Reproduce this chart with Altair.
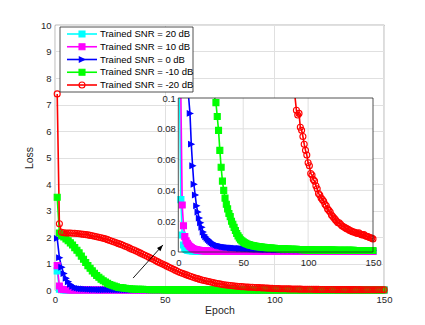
import altair as alt
import pandas as pd

# ---------------- data ----------------
epochs = list(range(1, 151))
series_names = ["Trained SNR = 20 dB", "Trained SNR = 10 dB", "Trained SNR = 0 dB",
                "Trained SNR = -10 dB", "Trained SNR = -20 dB"]
series_colors = ["#00FFFF", "#FF00FF", "#0000FF", "#00FF00", "#FF0000"]
series_shapes = ["square", "square", "M0.9,0L-0.9,-0.85L-0.9,0.85Z", "square", "circle"]
series_sizes = [36, 36, 80, 36, 55]

loss_20db = [
    0.72, 0.034, 0.011, 0.0045, 0.0025, 0.0016, 0.0012, 0.0010, 0.0009, 0.0008,
    0.0007, 0.0007, 0.0006, 0.0006, 0.0006, 0.0005, 0.0005, 0.0005, 0.0005, 0.0005,
    0.0004, 0.0004, 0.0004, 0.0004, 0.0004, 0.0004, 0.0004, 0.0004, 0.0004, 0.0004,
    0.0004, 0.0004, 0.0004, 0.0004, 0.0004, 0.0004, 0.0004, 0.0004, 0.0004, 0.0004,
    0.0004, 0.0004, 0.0004, 0.0004, 0.0004, 0.0004, 0.0004, 0.0004, 0.0004, 0.0004,
    0.0004, 0.0004, 0.0004, 0.0004, 0.0004, 0.0004, 0.0004, 0.0004, 0.0004, 0.0004,
    0.0003, 0.0003, 0.0003, 0.0003, 0.0003, 0.0003, 0.0003, 0.0003, 0.0003, 0.0003,
    0.0003, 0.0003, 0.0003, 0.0003, 0.0003, 0.0003, 0.0003, 0.0003, 0.0003, 0.0003,
    0.0003, 0.0003, 0.0003, 0.0003, 0.0003, 0.0003, 0.0003, 0.0003, 0.0003, 0.0003,
    0.0003, 0.0003, 0.0003, 0.0003, 0.0003, 0.0003, 0.0003, 0.0003, 0.0003, 0.0003,
    0.0003, 0.0003, 0.0003, 0.0003, 0.0003, 0.0003, 0.0003, 0.0003, 0.0003, 0.0003,
    0.0003, 0.0003, 0.0003, 0.0003, 0.0003, 0.0003, 0.0003, 0.0003, 0.0003, 0.0003,
    0.0003, 0.0003, 0.0003, 0.0003, 0.0003, 0.0003, 0.0003, 0.0003, 0.0003, 0.0003,
    0.0003, 0.0003, 0.0003, 0.0003, 0.0003, 0.0003, 0.0003, 0.0003, 0.0003, 0.0003,
    0.0003, 0.0003, 0.0003, 0.0003, 0.0003, 0.0003, 0.0003, 0.0003, 0.0003, 0.0003,
]
loss_10db = [
    0.92, 0.15, 0.0305, 0.017, 0.010, 0.0072, 0.0056, 0.0045, 0.0036, 0.0029,
    0.0023, 0.0019, 0.0016, 0.0014, 0.0012, 0.0011, 0.0010, 0.0009, 0.0008, 0.0007,
    0.0007, 0.0006, 0.0006, 0.0006, 0.0005, 0.0005, 0.0005, 0.0005, 0.0005, 0.0005,
    0.0005, 0.0005, 0.0005, 0.0005, 0.0005, 0.0005, 0.0005, 0.0005, 0.0005, 0.0005,
    0.0004, 0.0004, 0.0004, 0.0004, 0.0004, 0.0004, 0.0004, 0.0004, 0.0004, 0.0004,
    0.0004, 0.0004, 0.0004, 0.0004, 0.0004, 0.0004, 0.0004, 0.0004, 0.0004, 0.0004,
    0.0004, 0.0004, 0.0004, 0.0004, 0.0004, 0.0004, 0.0004, 0.0004, 0.0004, 0.0004,
    0.0004, 0.0004, 0.0004, 0.0004, 0.0004, 0.0004, 0.0004, 0.0004, 0.0004, 0.0004,
    0.0004, 0.0004, 0.0004, 0.0004, 0.0004, 0.0004, 0.0004, 0.0004, 0.0004, 0.0004,
    0.0004, 0.0004, 0.0004, 0.0004, 0.0004, 0.0004, 0.0004, 0.0004, 0.0004, 0.0004,
    0.0004, 0.0004, 0.0004, 0.0004, 0.0004, 0.0004, 0.0004, 0.0004, 0.0004, 0.0004,
    0.0004, 0.0004, 0.0004, 0.0004, 0.0004, 0.0004, 0.0004, 0.0004, 0.0004, 0.0004,
    0.0004, 0.0004, 0.0004, 0.0004, 0.0004, 0.0004, 0.0004, 0.0004, 0.0004, 0.0004,
    0.0004, 0.0004, 0.0004, 0.0004, 0.0004, 0.0004, 0.0004, 0.0004, 0.0004, 0.0004,
    0.0004, 0.0004, 0.0004, 0.0004, 0.0004, 0.0004, 0.0004, 0.0004, 0.0004, 0.0004,
]
loss_0db = [
    1.95, 1.22, 0.86, 0.62, 0.44, 0.31, 0.21, 0.14, 0.090, 0.070,
    0.056, 0.044, 0.037, 0.030, 0.026, 0.022, 0.019, 0.016, 0.013, 0.011,
    0.0098, 0.0088, 0.0080, 0.0072, 0.0065, 0.0058, 0.0053, 0.0049, 0.0045, 0.0042,
    0.0040, 0.0038, 0.0036, 0.0034, 0.0032, 0.0031, 0.0030, 0.0029, 0.0028, 0.0027,
    0.0026, 0.0026, 0.0025, 0.0025, 0.0024, 0.0024, 0.0023, 0.0023, 0.0022, 0.0022,
    0.0021, 0.0021, 0.0020, 0.0020, 0.0020, 0.0019, 0.0019, 0.0019, 0.0018, 0.0018,
    0.0018, 0.0017, 0.0017, 0.0017, 0.0016, 0.0016, 0.0016, 0.0016, 0.0015, 0.0015,
    0.0015, 0.0015, 0.0015, 0.0014, 0.0014, 0.0014, 0.0014, 0.0014, 0.0014, 0.0014,
    0.0013, 0.0013, 0.0013, 0.0013, 0.0013, 0.0013, 0.0013, 0.0013, 0.0013, 0.0013,
    0.0012, 0.0012, 0.0012, 0.0012, 0.0012, 0.0012, 0.0012, 0.0012, 0.0012, 0.0012,
    0.0012, 0.0012, 0.0011, 0.0011, 0.0011, 0.0011, 0.0011, 0.0011, 0.0011, 0.0011,
    0.0011, 0.0011, 0.0011, 0.0011, 0.0011, 0.0011, 0.0011, 0.0011, 0.0011, 0.0011,
    0.0010, 0.0010, 0.0010, 0.0010, 0.0010, 0.0010, 0.0010, 0.0010, 0.0010, 0.0010,
    0.0010, 0.0010, 0.0010, 0.0010, 0.0010, 0.0010, 0.0010, 0.0010, 0.0010, 0.0010,
    0.0010, 0.0010, 0.0010, 0.0010, 0.0010, 0.0010, 0.0010, 0.0010, 0.0010, 0.0010,
]
loss_m10db = [
    3.5, 2.15, 2.05, 2.0, 1.93, 1.86, 1.78, 1.70, 1.60, 1.50,
    1.40, 1.28, 1.16, 1.04, 0.92, 0.82, 0.72, 0.63, 0.55, 0.48,
    0.41, 0.35, 0.30, 0.25, 0.21, 0.18, 0.15, 0.12, 0.097, 0.088,
    0.079, 0.066, 0.055, 0.046, 0.040, 0.035, 0.031, 0.028, 0.025, 0.023,
    0.020, 0.018, 0.016, 0.014, 0.012, 0.0105, 0.0092, 0.0080, 0.0072, 0.0066,
    0.0060, 0.0056, 0.0052, 0.0049, 0.0046, 0.0044, 0.0042, 0.0040, 0.0038, 0.0037,
    0.0035, 0.0034, 0.0033, 0.0032, 0.0031, 0.0030, 0.0029, 0.0028, 0.0027, 0.0026,
    0.0025, 0.0025, 0.0024, 0.0024, 0.0023, 0.0023, 0.0022, 0.0022, 0.0021, 0.0021,
    0.0020, 0.0020, 0.0019, 0.0019, 0.0019, 0.0018, 0.0018, 0.0018, 0.0017, 0.0017,
    0.0017, 0.0016, 0.0016, 0.0016, 0.0015, 0.0015, 0.0015, 0.0015, 0.0014, 0.0014,
    0.0014, 0.0014, 0.0014, 0.0013, 0.0013, 0.0013, 0.0013, 0.0013, 0.0013, 0.0013,
    0.0012, 0.0012, 0.0012, 0.0012, 0.0012, 0.0012, 0.0012, 0.0012, 0.0012, 0.0012,
    0.0011, 0.0011, 0.0011, 0.0011, 0.0011, 0.0011, 0.0011, 0.0011, 0.0011, 0.0011,
    0.0011, 0.0011, 0.0011, 0.0011, 0.0011, 0.0010, 0.0010, 0.0010, 0.0010, 0.0010,
    0.0010, 0.0010, 0.0010, 0.0010, 0.0010, 0.0010, 0.0010, 0.0010, 0.0010, 0.0010,
]
loss_m20db = [
    7.4, 2.5, 2.18, 2.16, 2.15, 2.15, 2.15, 2.14, 2.14, 2.13,
    2.12, 2.11, 2.10, 2.09, 2.08, 2.06, 2.05, 2.03, 2.01, 1.99,
    1.97, 1.95, 1.93, 1.90, 1.87, 1.84, 1.81, 1.78, 1.75, 1.72,
    1.69, 1.65, 1.62, 1.58, 1.54, 1.51, 1.47, 1.43, 1.39, 1.35,
    1.31, 1.27, 1.23, 1.19, 1.15, 1.10, 1.06, 1.02, 0.98, 0.94,
    0.90, 0.86, 0.82, 0.78, 0.74, 0.70, 0.66, 0.63, 0.60, 0.57,
    0.54, 0.51, 0.48, 0.45, 0.43, 0.40, 0.38, 0.36, 0.34, 0.32,
    0.30, 0.28, 0.26, 0.245, 0.23, 0.215, 0.20, 0.19, 0.18, 0.17,
    0.16, 0.15, 0.14, 0.133, 0.126, 0.12, 0.114, 0.109, 0.105, 0.101,
    0.092, 0.089, 0.090, 0.081, 0.079, 0.075, 0.070, 0.066, 0.063, 0.058,
    0.056, 0.051, 0.050, 0.047, 0.046, 0.043, 0.041, 0.038, 0.037, 0.035,
    0.034, 0.033, 0.031, 0.030, 0.028, 0.027, 0.026, 0.024, 0.023, 0.022,
    0.021, 0.020, 0.019, 0.019, 0.018, 0.017, 0.0165, 0.016, 0.0155, 0.015,
    0.0148, 0.014, 0.0138, 0.0132, 0.013, 0.0128, 0.0123, 0.012, 0.0125, 0.0118,
    0.0112, 0.011, 0.0113, 0.0105, 0.0102, 0.010, 0.0096, 0.0093, 0.0090, 0.0085,
]
all_losses = [loss_20db, loss_10db, loss_0db, loss_m10db, loss_m20db]

main_x_lim = [0, 150]
main_y_lim = [0, 10]
main_x_ticks = [0, 50, 100, 150]
main_y_ticks = [0, 1, 2, 3, 4, 5, 6, 7, 8, 9, 10]
inset_x_lim = [0, 150]
inset_y_lim = [0, 0.1]
inset_x_ticks = [0, 50, 100, 150]
inset_y_ticks = [0, 0.02, 0.04, 0.06, 0.08, 0.1]
arrow_x = [35.6, 49.2]
arrow_y = [0.45, 1.70]

# ---------------- tables ----------------
rows = []
for name, vals in zip(series_names, all_losses):
    for e, v in zip(epochs, vals):
        rows.append({"series": name, "epoch": e, "loss": v})
df = pd.DataFrame(rows)
df["next"] = df.groupby("series")["loss"].shift(-1)
inset_line_df = df[(df["loss"] <= inset_y_lim[1]) | (df["next"] <= inset_y_lim[1])].drop(columns="next")
inset_pt_df = df[df["loss"] <= inset_y_lim[1]].drop(columns="next")
df = df.drop(columns="next")

frame_df = pd.DataFrame({"x0": [inset_x_lim[0]], "x1": [inset_x_lim[1]],
                         "y0": [inset_y_lim[0]], "y1": [inset_y_lim[1]]})
vgrid_df = pd.DataFrame({"x": [t for t in inset_x_ticks if inset_x_lim[0] < t < inset_x_lim[1]]})
vgrid_df["y0"], vgrid_df["y1"] = inset_y_lim[0], inset_y_lim[1]
hgrid_df = pd.DataFrame({"y": [t for t in inset_y_ticks if inset_y_lim[0] < t < inset_y_lim[1]]})
hgrid_df["x0"], hgrid_df["x1"] = inset_x_lim[0], inset_x_lim[1]
arrow_df = pd.DataFrame({"x": [arrow_x[0]], "y": [arrow_y[0]], "x2": [arrow_x[1]], "y2": [arrow_y[1]]})
leg_df = pd.DataFrame({"series": series_names})

# ---------------- scales ----------------
FONT = "Liberation Sans"
GRID = "#e0e0e0"
AX = "#262626"
color_scale = alt.Scale(domain=series_names, range=series_colors)
shape_scale = alt.Scale(domain=series_names, range=series_shapes)
size_scale = alt.Scale(domain=series_names, range=series_sizes)
mx = alt.Scale(domain=main_x_lim, nice=False, zero=False)
my = alt.Scale(domain=main_y_lim, nice=False)
ix = alt.Scale(domain=inset_x_lim, range=[123.3, 318], nice=False, zero=False)
iy = alt.Scale(domain=inset_y_lim, range=[227, 73], nice=False, clamp=True)

red_open = "datum.series === 'Trained SNR = -20 dB'"
fill_enc = alt.condition(red_open, alt.value("transparent"),
                         alt.Fill("series:N", scale=color_scale, legend=None))
color_enc = alt.Color("series:N", scale=color_scale, legend=None)
shape_enc = alt.Shape("series:N", scale=shape_scale, legend=None)
size_enc = alt.Size("series:N", scale=size_scale, legend=None)

# ---------------- main plot ----------------
main_xaxis = alt.Axis(values=main_x_ticks, title="Epoch", orient="bottom", grid=True,
                      domain=False, ticks=False, labelFlush=False, labelPadding=4,
                      titlePadding=2)
main_yaxis = alt.Axis(values=main_y_ticks, title="Loss", orient="left", grid=True,
                      domain=False, ticks=False, labelPadding=4, titlePadding=6)

def MX(f):
    return alt.X(f, scale=mx, axis=main_xaxis)

def MY(f):
    return alt.Y(f, scale=my, axis=main_yaxis)

main_lines = alt.Chart(df).mark_line(strokeWidth=1.6).encode(
    x=MX("epoch:Q"), y=MY("loss:Q"), color=color_enc,
)
main_pts = alt.Chart(df).mark_point(filled=False, opacity=1, strokeWidth=1.1).encode(
    x=MX("epoch:Q"), y=MY("loss:Q"),
    color=color_enc, shape=shape_enc, size=size_enc, fill=fill_enc,
)
arrow_line = alt.Chart(arrow_df).mark_rule(color="black", strokeWidth=0.9).encode(
    x=MX("x:Q"), x2="x2:Q", y=MY("y:Q"), y2="y2:Q",
)
arrow_head = alt.Chart(arrow_df).mark_point(
    filled=True, fill="black", color="black", opacity=1, size=70, angle=42,
    shape="M0,0L0.55,1.5L-0.55,1.5Z",
).encode(x=MX("x2:Q"), y=MY("y2:Q"))
main_group = alt.layer(main_lines, main_pts, arrow_line, arrow_head)

# ---------------- inset ----------------
inset_xaxis = alt.Axis(values=inset_x_ticks, orient="bottom", offset=-38, grid=False,
                       domain=False, ticks=False, title=None, labelFlush=False,
                       labelPadding=5)
inset_yaxis = alt.Axis(values=inset_y_ticks, orient="left", offset=-123.3, grid=False,
                       domain=False, ticks=False, title=None, format="~g",
                       labelPadding=3)

def IX(f):
    return alt.X(f, scale=ix, axis=inset_xaxis)

def IY(f):
    return alt.Y(f, scale=iy, axis=inset_yaxis)

inset_bg = alt.Chart(frame_df).mark_rect(fill="white").encode(
    x=IX("x0:Q"), x2="x1:Q", y=IY("y0:Q"), y2="y1:Q",
)
inset_vgrid = alt.Chart(vgrid_df).mark_rule(color=GRID, strokeWidth=1).encode(
    x=IX("x:Q"), y=IY("y0:Q"), y2="y1:Q",
)
inset_hgrid = alt.Chart(hgrid_df).mark_rule(color=GRID, strokeWidth=1).encode(
    y=IY("y:Q"), x=IX("x0:Q"), x2="x1:Q",
)
inset_lines = alt.Chart(inset_line_df).mark_line(strokeWidth=1.6).encode(
    x=IX("epoch:Q"), y=IY("loss:Q"), color=color_enc,
)
inset_pts = alt.Chart(inset_pt_df).mark_point(filled=False, opacity=1, strokeWidth=1.1).encode(
    x=IX("epoch:Q"), y=IY("loss:Q"),
    color=color_enc, shape=shape_enc, size=size_enc, fill=fill_enc,
)
inset_frame = alt.Chart(frame_df).mark_rect(fill="transparent", stroke=AX, strokeWidth=0.8).encode(
    x=IX("x0:Q"), x2="x1:Q", y=IY("y0:Q"), y2="y1:Q",
)
inset_group = alt.layer(inset_bg, inset_vgrid, inset_hgrid, inset_lines, inset_pts, inset_frame)

# ---------------- legend ----------------
y_leg = alt.Y("series:N", scale=alt.Scale(type="point", domain=series_names,
                                          range=[9, 60], padding=0), axis=None)
leg_box = alt.Chart(leg_df.head(1)).mark_rect(fill="white", stroke=AX, strokeWidth=0.8).encode(
    x=alt.value(5), x2=alt.value(138), y=alt.value(2), y2=alt.value(67),
)
leg_lines = alt.Chart(leg_df).mark_rule(strokeWidth=1.6).encode(
    x=alt.value(12), x2=alt.value(42), y=y_leg, color=color_enc,
)
leg_pts = alt.Chart(leg_df).mark_point(filled=False, opacity=1, strokeWidth=1.1).encode(
    x=alt.value(27), y=y_leg, color=color_enc, shape=shape_enc, size=size_enc, fill=fill_enc,
)
leg_text = alt.Chart(leg_df).mark_text(align="left", baseline="middle", fontSize=9.5,
                                       font=FONT, color="black").encode(
    x=alt.value(45), y=y_leg, text="series:N",
)
legend_group = alt.layer(leg_box, leg_lines, leg_pts, leg_text)

chart = alt.layer(main_group, inset_group, legend_group).resolve_scale(
    x="independent", y="independent"
).properties(
    width=329, height=265,
    padding={"left": 47, "top": 17, "right": 30, "bottom": 26},
    autosize=alt.AutoSizeParams(type="none"),
).configure_view(
    stroke=AX, strokeWidth=0.8
).configure_axis(
    labelFont=FONT, titleFont=FONT, labelFontSize=9.5, titleFontSize=10.5,
    labelColor=AX, titleColor=AX, titleFontWeight="normal", gridColor=GRID,
    gridWidth=1,
)

chart.save("out.html", embed_options={"renderer": "svg", "actions": False})
